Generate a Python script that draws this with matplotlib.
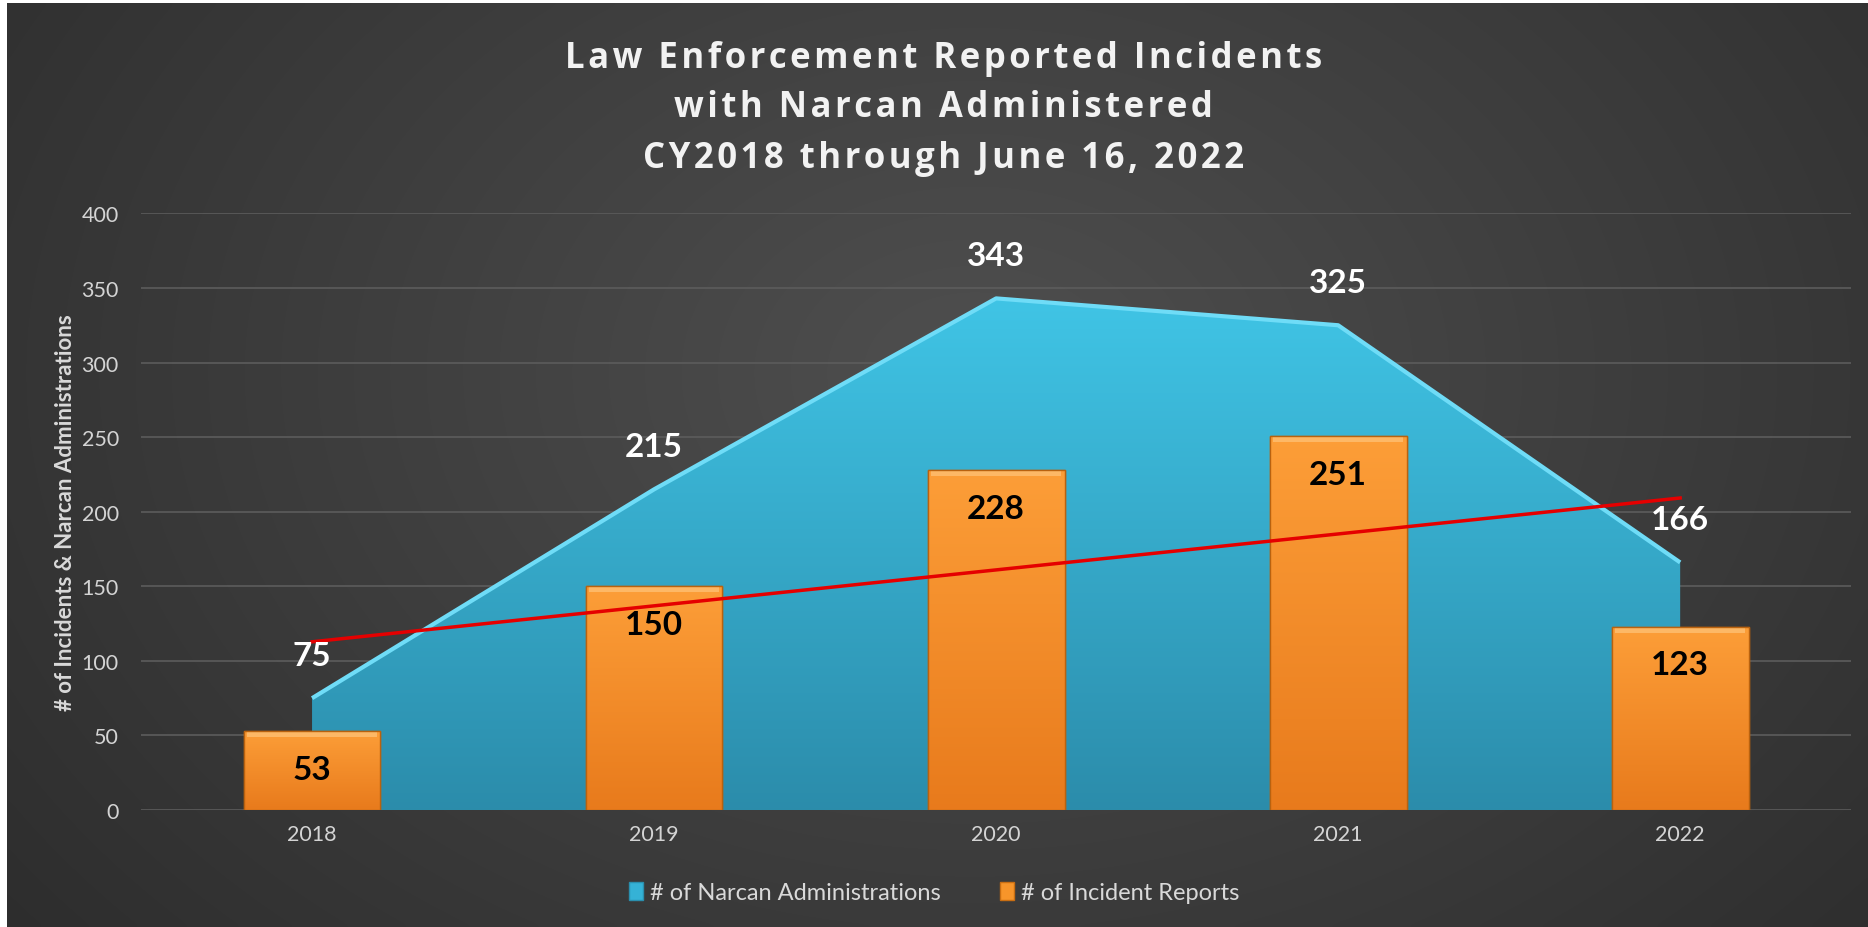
import numpy as np
import matplotlib
matplotlib.use("Agg")
from matplotlib import pyplot as plt
from matplotlib.patches import Patch

years = ["2018", "2019", "2020", "2021", "2022"]
narcan = [75, 215, 343, 325, 166]
incidents = [53, 150, 228, 251, 123]
yticks = [0, 50, 100, 150, 200, 250, 300, 350, 400]

plt.rcParams["font.family"] = ["Lato", "DejaVu Sans"]

fig = plt.figure(figsize=(18.68, 9.28), dpi=100, facecolor="white")

# dark radial background
bg = fig.add_axes([7 / 1868, 0, 1 - 7 / 1868, 1 - 4 / 928])
bg.set_axis_off()
gx, gy = np.meshgrid(np.linspace(0, 1, 400), np.linspace(0, 1, 200))
r = np.sqrt(((gx - 0.52) / 0.75) ** 2 + ((gy - 0.4) / 1.1) ** 2)
r = np.clip(r, 0, 1)
shade = 0.31 - 0.15 * r
bg.imshow(np.dstack([shade, shade, shade]), aspect="auto", extent=(0, 1, 0, 1),
          interpolation="bicubic")

ax = fig.add_axes([0.0755, 0.126, 0.9155, 0.643])
ax.set_facecolor("none")
x = np.arange(len(years))


def vgrad(top, bot):
    t = np.linspace(0, 1, 256).reshape(-1, 1, 1)
    return np.array(top)[None, None, :] * (1 - t) + np.array(bot)[None, None, :] * t


# area for narcan administrations, with vertical gradient
area = ax.fill_between(x, narcan, 0, color="none", lw=0, zorder=2)
im = ax.imshow(vgrad([0.25, 0.77, 0.90], [0.17, 0.55, 0.67]), aspect="auto",
               extent=(x[0], x[-1], 0, max(narcan)), zorder=2, interpolation="bicubic")
im.set_clip_path(area.get_paths()[0], transform=ax.transData)
ax.plot(x, narcan, color="#6fdcf7", lw=3, zorder=2.5, solid_capstyle="butt")

# bars for incident reports, shaded
bars = ax.bar(x, incidents, width=0.4, color="#F7952A", edgecolor="#B9620F",
              linewidth=1.0, zorder=3)
for b in bars:
    x0, w, h = b.get_x(), b.get_width(), b.get_height()
    bi = ax.imshow(vgrad([0.99, 0.62, 0.22], [0.91, 0.48, 0.11]), aspect="auto",
                   extent=(x0, x0 + w, 0, h), zorder=3.2, interpolation="bicubic")
    bi.set_clip_path(b)
    ax.bar(x0 + w / 2, 4, bottom=h - 4, width=w * 0.95, color="#FDB866", lw=0, zorder=3.5)
    ax.bar(x0 + w / 2, h, width=w, color="none", edgecolor="#B9620F", lw=1.0, zorder=3.6)

# linear trendline of incident reports
k, c = np.polyfit(x, incidents, 1)
ax.plot(x, k * x + c, color="#E50000", lw=2.5, zorder=4)

for xi, v in zip(x, narcan):
    ax.text(xi, v + 19, str(v), ha="center", va="bottom", color="white",
            fontsize=24, fontweight="bold", zorder=5)
for xi, v in zip(x, incidents):
    ax.text(xi, v - 16, str(v), ha="center", va="top", color="black",
            fontsize=24, fontweight="bold", zorder=5)

ax.set_xlim(-0.5, 4.5)
ax.set_ylim(0, 400)
ax.set_yticks(yticks)
ax.set_xticks(x)
ax.set_xticklabels(years)
ax.tick_params(colors="#d4d4d4", labelsize=15.5, length=0, pad=10)
ax.tick_params(axis="y", pad=16)
ax.grid(axis="y", color="#5c5c5c", lw=1.2, zorder=0)
ax.set_axisbelow(True)
for s in ax.spines.values():
    s.set_visible(False)
ax.set_ylabel("# of Incidents & Narcan Administrations", color="#d9d9d9",
              fontsize=16, fontweight="bold", labelpad=4)

title_lines = ["Law Enforcement Reported Incidents", "with Narcan Administered",
               "CY2018 through June 16, 2022"]
for ty, line in zip([0.936, 0.884, 0.829], title_lines):
    fig.text(0.505, ty, "\u200a".join(line), ha="center", va="center", color="#f2f2f2",
             fontsize=25, fontweight="bold", family=["Open Sans", "DejaVu Sans"])

handles = [Patch(facecolor="#35B2D6", edgecolor="#2a8fae"),
           Patch(facecolor="#F7952A", edgecolor="#C96E12")]
fig.legend(handles, ["# of Narcan Administrations", "# of Incident Reports"],
           loc="center", bbox_to_anchor=(0.5, 0.037), ncol=2, frameon=False,
           fontsize=17, labelcolor="#d9d9d9", handlelength=0.6, handleheight=0.8,
           handletextpad=0.3, columnspacing=2.5)

fig.savefig("out.png", dpi=100, facecolor="white")
